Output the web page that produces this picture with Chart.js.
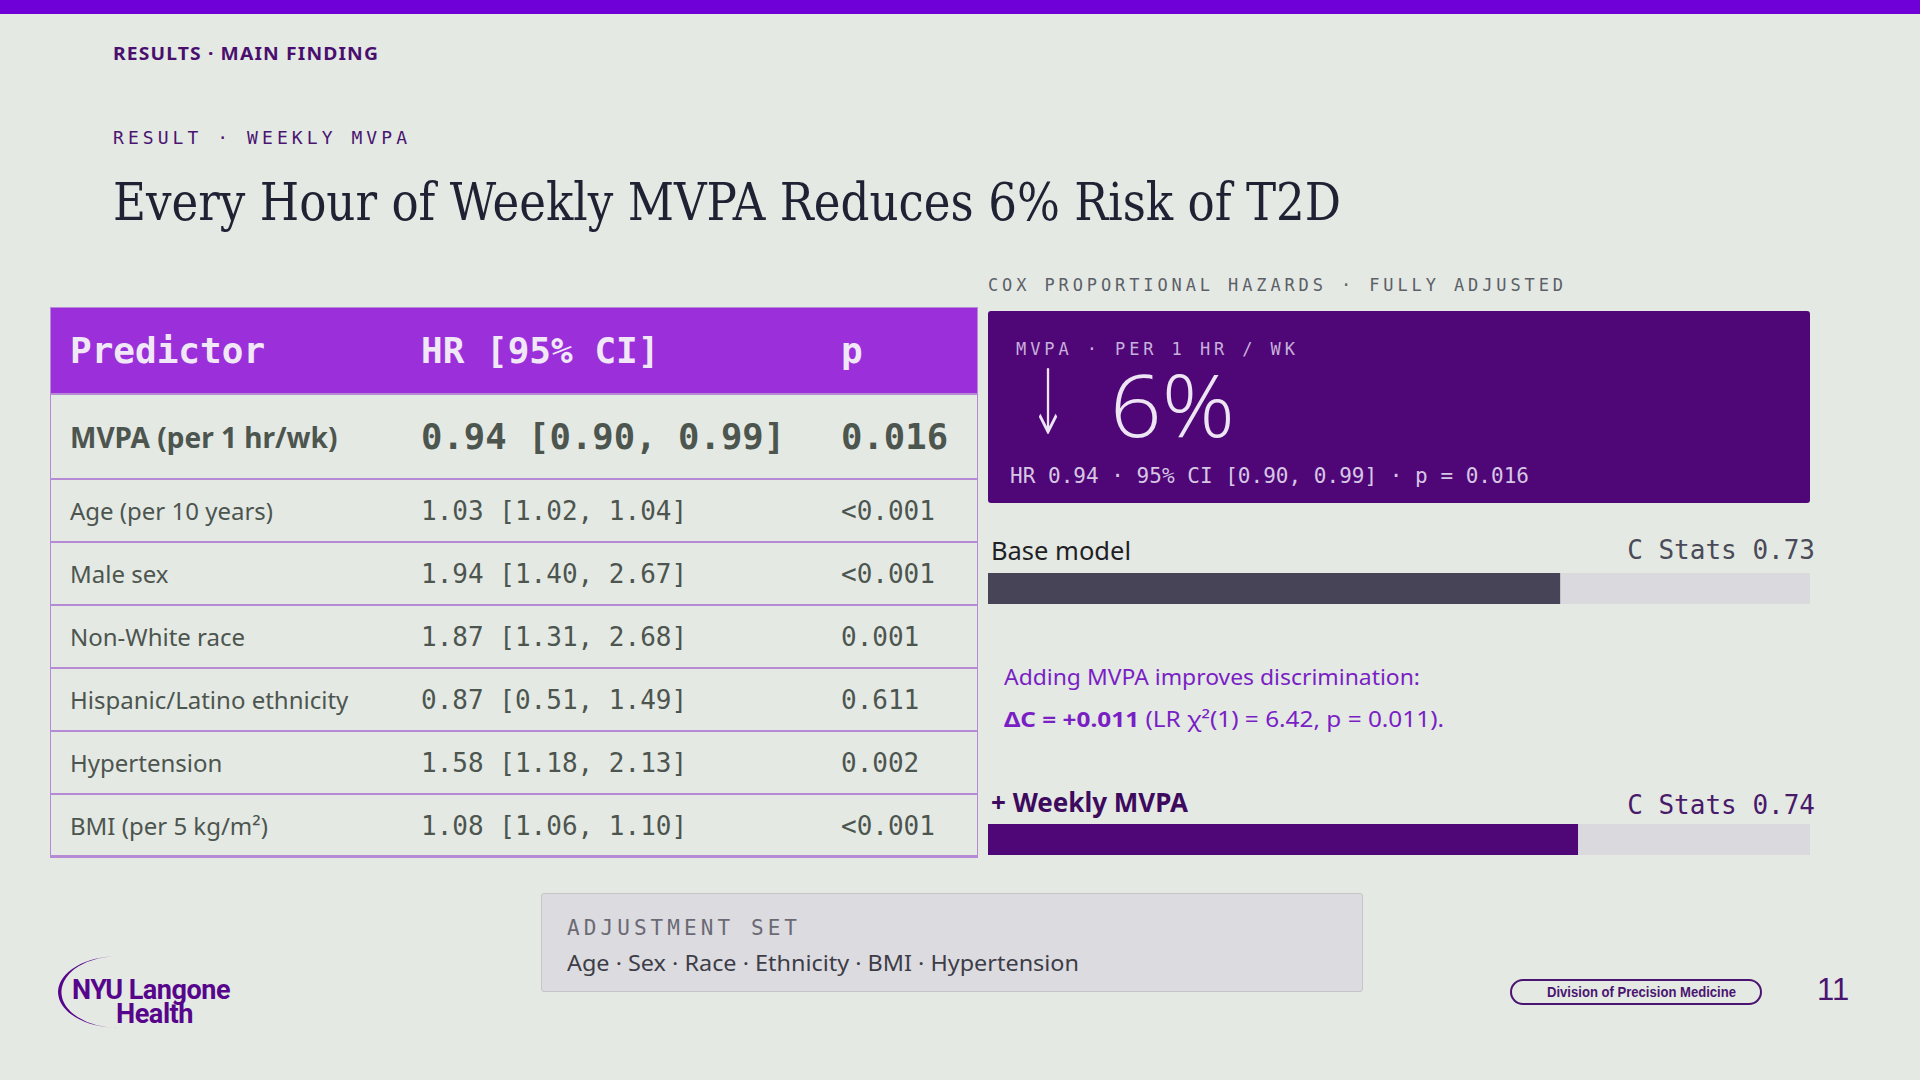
<!DOCTYPE html>
<html><head><meta charset="utf-8">
<script src="https://cdn.jsdelivr.net/npm/chart.js@4.4.0/dist/chart.umd.min.js"></script>
<style>
html,body{margin:0;padding:0;}
body{width:1920px;height:1080px;background:#E4E9E4;position:relative;overflow:hidden;font-family:"Noto Sans",sans-serif;}
.abs{position:absolute;white-space:nowrap;}
.mono{font-family:"DejaVu Sans Mono",monospace;}
.topbar{position:absolute;left:0;top:0;width:1920px;height:14px;background:#7000D8;}
table.t{position:absolute;left:50px;top:307px;border-collapse:collapse;width:928px;table-layout:fixed;}
table.t td, table.t th{padding:0 0 0 20px;text-align:left;white-space:nowrap;border-bottom:2px solid #B78AD6;}
table.t th{background:#9B30DA;color:#F1E8F7;font-family:"DejaVu Sans Mono",monospace;font-weight:bold;font-size:36px;height:86px;}
table.t td{color:#4D554F;height:61px;font-size:24px;}
table.t td.m{font-family:"DejaVu Sans Mono",monospace;font-size:26px;}
table.t tr.key td{height:83px;font-weight:bold;font-size:28px;}
table.t tr.key td.m{font-size:35.6px;}
.tbox{position:absolute;left:50px;top:307px;width:926px;height:547px;border:1px solid #B78AD6;pointer-events:none;}
canvas{position:absolute;}
</style></head>
<body>
<div class="topbar"></div>
<div class="abs" data-fit="266" style="left:113px;top:42px;line-height:24px;font-size:17px;font-weight:bold;color:#4A0F6E;letter-spacing:1px;">RESULTS · MAIN FINDING</div>
<div class="abs mono" data-fit="297" data-ls="1" style="left:113px;top:126px;line-height:24px;font-size:18px;color:#4A1570;letter-spacing:3px;">RESULT · WEEKLY MVPA</div>
<div class="abs" data-fit="1228" style="left:113px;top:170px;line-height:64px;font-size:52px;color:#1E2233;font-family:'DejaVu Serif',serif;">Every Hour of Weekly MVPA Reduces 6% Risk of T2D</div>

<table class="t" id="tbl">
<colgroup><col style="width:351px"><col style="width:420px"><col style="width:157px"></colgroup>
<thead><tr><th>Predictor</th><th>HR [95% CI]</th><th>p</th></tr></thead>
<tbody id="tb"></tbody>
</table>
<div class="tbox"></div>

<div class="abs mono" data-fit="578" data-ls="1" style="left:988px;top:273px;line-height:24px;font-size:17px;color:#5C6068;letter-spacing:3px;">COX PROPORTIONAL HAZARDS · FULLY ADJUSTED</div>
<div class="abs" style="left:988px;top:311px;width:822px;height:192px;background:#4F0778;border-radius:3px;"></div>
<div class="abs mono" data-fit="282" data-ls="1" style="left:1016px;top:337px;line-height:24px;font-size:17px;color:#C7B0DC;letter-spacing:3px;">MVPA · PER 1 HR / WK</div>
<div class="abs" data-fit="38" style="left:1029px;top:367px;line-height:72px;font-size:90px;color:#EDE5F3;font-family:'DejaVu Sans',sans-serif;font-weight:200;">↓</div>
<div class="abs" data-fit="125" style="left:1110px;top:369px;line-height:70px;font-size:86px;color:#EDE5F3;font-family:'Open Sans',sans-serif;font-weight:300;">6%</div>
<div class="abs mono" data-fit="519" data-ls="1" style="left:1010px;top:462px;line-height:28px;font-size:21px;color:#D6C6E4;">HR 0.94 · 95% CI [0.90, 0.99] · p = 0.016</div>

<div class="abs" id="lab0" data-fit="140" style="left:991px;top:533px;line-height:34px;font-size:26px;color:#1F1F24;"></div>
<div class="abs mono" id="val0" style="right:105px;top:533px;line-height:34px;font-size:26px;color:#4A4A58;"></div>
<canvas id="bar0" width="822" height="31" style="left:988px;top:573px;width:822px;height:31px;"></canvas>

<div class="abs" data-fit="416" style="left:1004px;top:661px;line-height:30px;font-size:22px;color:#7A1FC4;">Adding MVPA improves discrimination:</div>
<div class="abs" data-fit="440" style="left:1004px;top:703px;line-height:30px;font-size:22px;color:#7A1FC4;"><b>ΔC = +0.011</b> (LR χ²(1) = 6.42, p = 0.011).</div>

<div class="abs" id="lab1" data-fit="197" style="left:991px;top:785px;line-height:34px;font-size:26px;color:#3D0A5E;font-weight:bold;"></div>
<div class="abs mono" id="val1" style="right:105px;top:788px;line-height:34px;font-size:26px;color:#4A1A6A;"></div>
<canvas id="bar1" width="822" height="31" style="left:988px;top:824px;width:822px;height:31px;"></canvas>

<div class="abs" style="left:541px;top:893px;width:820px;height:97px;background:#DCDBE0;border:1.5px solid #C4C4CA;border-radius:3px;"></div>
<div class="abs mono" data-fit="233" data-ls="1" style="left:567px;top:915px;line-height:26px;font-size:21px;color:#6A6A74;letter-spacing:3px;">ADJUSTMENT SET</div>
<div class="abs" data-fit="512" style="left:567px;top:948px;line-height:28px;font-size:22px;color:#3D3D48;">Age · Sex · Race · Ethnicity · BMI · Hypertension</div>

<svg class="abs" style="left:50px;top:945px;" width="120" height="95" viewBox="0 0 120 95">
<path d="M70,11 A61,36 0 0 0 68,83 A56,35 0 0 1 70,11 Z" fill="#57068C"/>
</svg>
<div class="abs" data-fit="158" style="left:72px;top:978px;line-height:24px;font-size:28px;font-weight:bold;color:#57068C;letter-spacing:-0.5px;font-family:Roboto,sans-serif;">NYU Langone</div>
<div class="abs" data-fit="77" style="left:116px;top:1002px;line-height:24px;font-size:28px;font-weight:bold;color:#57068C;letter-spacing:-0.5px;font-family:Roboto,sans-serif;">Health</div>

<div class="abs" style="left:1510px;top:979px;width:248px;height:22px;border:2px solid #4A1570;border-radius:14px;"></div>
<div class="abs" data-fit="189" style="left:1547px;top:980px;line-height:24px;font-size:15px;font-weight:bold;color:#4A1570;font-family:'Liberation Sans',Arial,sans-serif;">Division of Precision Medicine</div>
<div class="abs" style="left:1817px;top:970px;line-height:40px;font-size:31px;color:#4A1570;font-family:'Liberation Sans',Arial,sans-serif;">11</div>

<script>
// ---- table data ----
const predictors = ['MVPA (per 1 hr/wk)','Age (per 10 years)','Male sex','Non-White race','Hispanic/Latino ethnicity','Hypertension','BMI (per 5 kg/m²)'];
const hazardRatios = [0.94, 1.03, 1.94, 1.87, 0.87, 1.58, 1.08];
const ciLower = [0.90, 1.02, 1.40, 1.31, 0.51, 1.18, 1.06];
const ciUpper = [0.99, 1.04, 2.67, 2.68, 1.49, 2.13, 1.10];
const pValues = ['0.016','<0.001','<0.001','0.001','0.611','0.002','<0.001'];

// ---- C statistic bars ----
const models = ['Base model', '+ Weekly MVPA'];
const cStats = [0.73, 0.74];
const axisMin = 0.41, axisMax = 0.87;
const barColors = ['#474457', '#4F0778'];
const trackColor = '#D9D9DE';

const tb = document.getElementById('tb');
predictors.forEach((p,i)=>{
  const tr = document.createElement('tr');
  if(i===0) tr.className='key';
  const hr = hazardRatios[i].toFixed(2)+' ['+ciLower[i].toFixed(2)+', '+ciUpper[i].toFixed(2)+']';
  tr.innerHTML = '<td>'+p+'</td><td class="m">'+hr+'</td><td class="m">'+pValues[i]+'</td>';
  tb.appendChild(tr);
});

models.forEach((m,i)=>{
  document.getElementById('lab'+i).textContent = m;
  document.getElementById('val'+i).textContent = 'C Stats ' + cStats[i].toFixed(2);
  new Chart(document.getElementById('bar'+i), {
    type:'bar',
    data:{labels:[m], datasets:[
      {data:[cStats[i]], backgroundColor:barColors[i], borderWidth:0, order:1, grouped:false, barPercentage:1, categoryPercentage:1},
      {data:[axisMax], backgroundColor:trackColor, borderWidth:0, order:2, grouped:false, barPercentage:1, categoryPercentage:1}
    ]},
    options:{indexAxis:'y', responsive:false, maintainAspectRatio:false, animation:false,
      layout:{padding:0},
      plugins:{legend:{display:false}, tooltip:{enabled:false}},
      scales:{x:{display:false, min:axisMin, max:axisMax}, y:{display:false}}}
  });
});

// fit text widths
document.querySelectorAll('[data-fit]').forEach(el=>{
  const target = +el.dataset.fit;
  const w = el.getBoundingClientRect().width;
  if(el.dataset.ls){
    const n = el.textContent.length;
    const cur = parseFloat(getComputedStyle(el).letterSpacing)||0;
    el.style.letterSpacing = (cur + (target - w)/(n-1)) + 'px';
  } else {
    el.style.transformOrigin = 'left center';
    el.style.transform = 'scaleX(' + (target/w) + ')';
  }
});
</script>
</body></html>
